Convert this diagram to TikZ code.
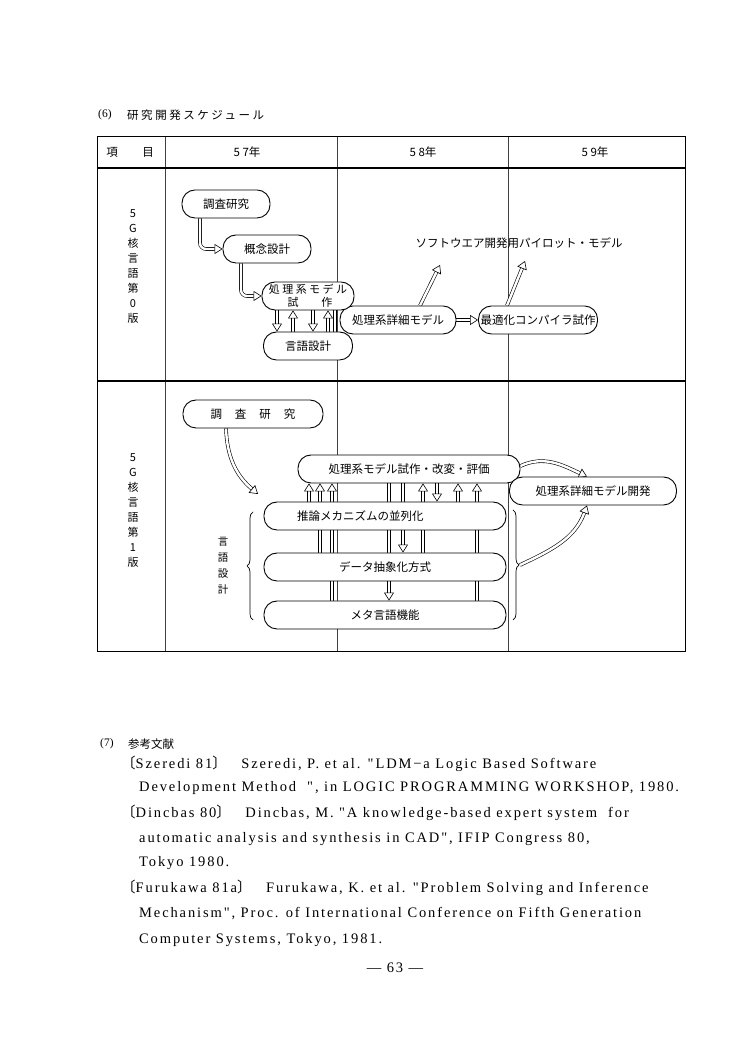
\documentclass[tikz,border=0pt]{standalone}
\usepackage{fontspec}
\setmainfont{Liberation Serif}
\newfontfamily\jp{Noto Sans CJK JP}
\newfontfamily\jpsp{Noto Sans CJK JP}[LetterSpace=22]
\newfontfamily\reffont{Liberation Serif}[LetterSpace=13]
\usetikzlibrary{arrows.meta}
\usetikzlibrary{decorations.pathreplacing}
\usetikzlibrary{backgrounds}

\begin{document}
\begin{tikzpicture}[x=1pt, y=1pt, line cap=round, line join=round]

	\tikzset{
		pill/.style={draw, line width=0.9pt, fill=white, rounded corners=13pt, minimum height=28pt, inner sep=1pt, align=center, font=\jp\fontsize{11.5}{14}\selectfont},
		dbl/.style={draw, line width=0.6pt, double=white, double distance=2.4pt, -{Triangle[open, length=8pt, width=10pt, line width=0.6pt]}},
		grid/.style={line width=0.6pt, black!75},
		rule/.style={line width=1.2pt},
		lab/.style={font=\jp\fontsize{11.5}{14}\selectfont, inner sep=0pt},
		side/.style={font=\jp\fontsize{11}{15}\selectfont, align=center, inner sep=0pt},
		brace/.style={decorate, decoration={brace, amplitude=6pt}, line width=0.7pt},
		ref/.style={anchor=west, inner sep=0pt, font=\reffont\fontsize{14.5}{17}\selectfont},
	}

	\useasboundingbox (0,0) rectangle (750,1054);

	% --- Page and table frame
	\begin{scope}[on background layer]
		\fill[white] (0,0) rectangle (750,1054);
		\draw[grid] (165,917) -- (165,402);
		\draw[grid] (337,917) -- (337,402);
		\draw[grid] (508,917) -- (508,402);
		\draw[rule] (97,886) -- (685,886);
		\draw[rule] (97,673) -- (685,673);
		\draw[line width=1pt] (97,402) rectangle (685,917);
	\end{scope}

	% --- Title and header row
	\node[lab, anchor=west, font=\rmfamily\fontsize{11.5}{14}\selectfont] (num6) at (98,939) {(6)};
	\node[lab, anchor=west, font=\jpsp\fontsize{11.5}{14}\selectfont] (title) at (127,939) {研究開発スケジュール};
	\node[lab] (headA) at (112,902) {項};
	\node[lab] (headB) at (148,902) {目};
	\node[lab] (y57) at (247,902) {5 7年};
	\node[lab] (y58) at (423,902) {5 8年};
	\node[lab] (y59) at (595,902) {5 9年};

	% --- 5G kernel language, version 0
	\node[side] (row0) at (133,787) {5\\G\\核\\言\\語\\第\\0\\版};
	\node[pill, minimum width=116pt] (detail0) at (398,734) {処理系詳細モデル};
	\node[pill, minimum width=88pt] (survey0) at (226,850) {調査研究};
	\node[pill, minimum width=88pt] (concept0) at (267,805) {概念設計};
	\node[pill, minimum width=92pt, font=\jp\fontsize{11}{13}\selectfont] (proto0) at (308,758) {{\jpsp 処理系モデル}\\\hspace*{4pt}試\hspace{23pt}作};
	\node[pill, minimum width=89pt] (lang0) at (308,708) {言語設計};
	\node[pill, minimum width=119pt] (opt0) at (538,734) {最適化コンパイラ試作};
	\node[lab] (pilot) at (519,811) {ソフトウエア開発用パイロット・モデル};

	% --- 5G kernel language, version 1
	\node[side] (row1) at (133,543) {5\\G\\核\\言\\語\\第\\1\\版};
	\node[pill, minimum width=140pt] (survey1) at (253,640) {調\hspace{13pt}査\hspace{13pt}研\hspace{13pt}究};
	\node[pill, minimum width=222pt] (proto1) at (409,585) {処理系モデル試作・改変・評価};
	\node[pill, minimum width=167pt] (detail1) at (593,563) {処理系詳細モデル開発};
	\node[pill, text width=176pt, inner xsep=33pt, align=left] (infer1) at (385,538) {推論メカニズムの並列化};
	\node[pill, minimum width=242pt] (data1) at (385,487) {データ抽象化方式};
	\node[pill, minimum width=242pt] (meta1) at (385,439) {メタ言語機能};
	\node[side, font=\jp\fontsize{10.5}{16}\selectfont] (langdes) at (223,488) {言\\語\\設\\計};

	% braces round the language design boxes
	\draw[brace] (253,434) -- (253,542);
	\draw[brace] (513,544) -- (513,434);
	\coordinate (rbr) at (520,489);

	% --- Connectors (behind the boxes)
	\begin{scope}[on background layer]
		\draw[dbl, rounded corners=6pt] ([xshift=-26pt]survey0.south) |- (concept0.west);
		\draw[dbl, rounded corners=6pt] ([xshift=-26pt]concept0.south) |- (proto0.west);
		\foreach \x in {277,313}
			\draw[dbl] (\x,0 |- proto0.south) -- (\x,0 |- lang0.north);
		\foreach \x in {293,328}
			\draw[dbl] (\x,0 |- lang0.north) -- (\x,0 |- proto0.south);
		\draw[dbl, -] (335,0 |- lang0.north) -- (335,0 |- proto0.south);
		\draw[dbl] (detail0) -- (opt0);
		\coordinate (pilotA) at (440,789);
		\coordinate (pilotB) at (525,793);
		\draw[dbl] ([xshift=22pt]detail0.north) -- (pilotA);
		\draw[dbl] ([xshift=-31pt]opt0.north) -- (pilotB);

		\coordinate (s1end) at (258,560);
		\draw[dbl] ([xshift=-27pt]survey1.south) to[out=-88, in=140] (s1end);
		\draw[dbl] ([yshift=3pt]proto1.east) to[out=25, in=155] ([xshift=-6pt]detail1.north);
		\draw[dbl] (rbr) to[out=25, in=-110] ([xshift=-6pt]detail1.south);
		% up into the model box
		\foreach \x/\src in {309/infer1, 320/data1, 332/meta1, 423/data1, 458/infer1, 477/meta1}
			\draw[dbl] (\x,0 |- \src.north) -- (\x,0 |- proto1.south);
		% down out of the model box
		\foreach \x/\dst in {389/meta1, 403/data1, 437/infer1}
			\draw[dbl] (\x,0 |- proto1.south) -- (\x,0 |- \dst.north);
	\end{scope}

	% --- References
	\node[ref, font=\rmfamily\fontsize{11.5}{14}\selectfont] (num7) at (100,310) {(7)};
	\node[lab, anchor=west] (refs) at (128,310) {参考文献};
	\node[ref] (sz1) at (121,290) {{\jp 〔}Szeredi 81{\jp 〕}\quad Szeredi, P. et al. "LDM−a Logic Based Software};
	\node[ref] (sz2) at (139,266) {Development Method \ ", in LOGIC PROGRAMMING WORKSHOP, 1980.};
	\node[ref] (di1) at (121,241) {{\jp 〔}Dincbas 80{\jp 〕}\quad Dincbas, M. "A knowledge-based expert system \ for};
	\node[ref] (di2) at (139,215) {automatic analysis and synthesis in CAD", IFIP Congress 80,};
	\node[ref] (di3) at (139,191) {Tokyo 1980.};
	\node[ref] (fu1) at (121,166) {{\jp 〔}Furukawa 81a{\jp 〕}\quad Furukawa, K. et al. "Problem Solving and Inference};
	\node[ref] (fu2) at (139,140) {Mechanism", Proc. of International Conference on Fifth Generation};
	\node[ref] (fu3) at (139,114) {Computer Systems, Tokyo, 1981.};
	\node[ref, anchor=center] (page) at (395,86) {— 63 —};

\end{tikzpicture}
\end{document}
